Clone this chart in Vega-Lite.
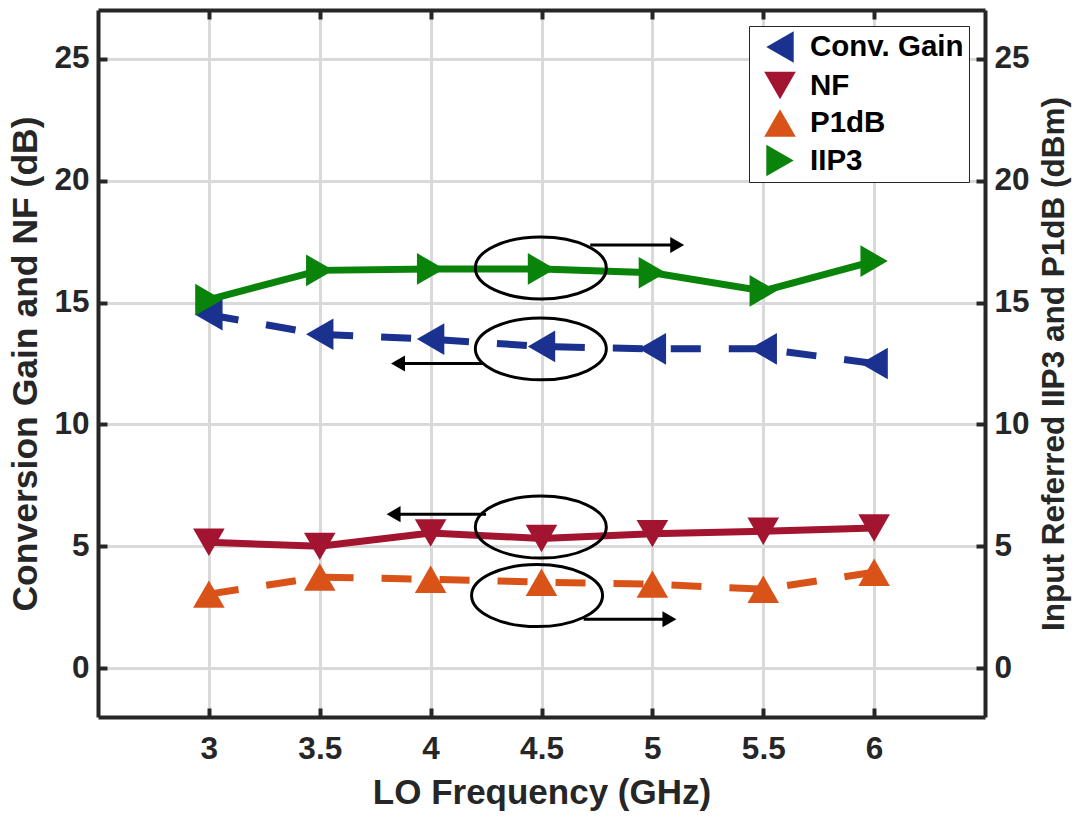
{
  "$schema": "https://vega.github.io/schema/vega-lite/v6.json",
  "width": 887,
  "height": 707,
  "autosize": {"type": "none"},
  "padding": {"left": 98, "top": 10, "right": 98, "bottom": 101},
  "background": "white",
  "config": {"view": {"stroke": null}, "font": "Liberation Sans"},
  "datasets": {
    "series": [
      {"s": "Conv. Gain", "f": 3, "v": 14.5},
      {"s": "Conv. Gain", "f": 3.5, "v": 13.7},
      {"s": "Conv. Gain", "f": 4, "v": 13.5},
      {"s": "Conv. Gain", "f": 4.5, "v": 13.2},
      {"s": "Conv. Gain", "f": 5, "v": 13.1},
      {"s": "Conv. Gain", "f": 5.5, "v": 13.1},
      {"s": "Conv. Gain", "f": 6, "v": 12.5},
      {"s": "NF", "f": 3, "v": 5.17},
      {"s": "NF", "f": 3.5, "v": 5.0},
      {"s": "NF", "f": 4, "v": 5.55},
      {"s": "NF", "f": 4.5, "v": 5.32},
      {"s": "NF", "f": 5, "v": 5.52},
      {"s": "NF", "f": 5.5, "v": 5.62},
      {"s": "NF", "f": 6, "v": 5.75},
      {"s": "P1dB", "f": 3, "v": 3.04},
      {"s": "P1dB", "f": 3.5, "v": 3.74},
      {"s": "P1dB", "f": 4, "v": 3.65},
      {"s": "P1dB", "f": 4.5, "v": 3.53},
      {"s": "P1dB", "f": 5, "v": 3.45},
      {"s": "P1dB", "f": 5.5, "v": 3.24},
      {"s": "P1dB", "f": 6, "v": 3.94},
      {"s": "IIP3", "f": 3, "v": 15.12},
      {"s": "IIP3", "f": 3.5, "v": 16.32},
      {"s": "IIP3", "f": 4, "v": 16.38},
      {"s": "IIP3", "f": 4.5, "v": 16.38},
      {"s": "IIP3", "f": 5, "v": 16.22},
      {"s": "IIP3", "f": 5.5, "v": 15.48},
      {"s": "IIP3", "f": 6, "v": 16.7}
    ],
    "ellipses": [
      {"f": 4.497, "v": 16.42},
      {"f": 4.497, "v": 13.1},
      {"f": 4.497, "v": 5.79},
      {"f": 4.48, "v": 2.98}
    ],
    "arrows": [
      {"from": 4.72, "to": 5.112, "v": 17.36, "dir": "right"},
      {"from": 4.24, "to": 3.853, "v": 12.5, "dir": "left"},
      {"from": 4.25, "to": 3.833, "v": 6.32, "dir": "left"},
      {"from": 4.69, "to": 5.077, "v": 2.01, "dir": "right"}
    ]
  },
  "layer": [
    {
      "data": {"name": "series"},
      "transform": [{"filter": "datum.s === 'Conv. Gain'"}],
      "mark": {"type": "line", "strokeWidth": 7, "color": "#1a318f", "strokeDash": [30, 28]},
      "encoding": {
        "x": {
          "field": "f", "type": "quantitative",
          "scale": {"domain": [2.5, 6.5], "nice": false, "zero": false},
          "axis": {
            "orient": "bottom", "values": [3, 3.5, 4, 4.5, 5, 5.5, 6],
            "title": null, "labels": false, "ticks": false, "domain": false, "zindex": 0,
            "grid": true, "gridColor": "#d9d9d9", "gridWidth": 3, "minExtent": 0, "maxExtent": 0
          }
        },
        "y": {
          "field": "v", "type": "quantitative",
          "scale": {"domain": [-2, 27], "nice": false, "zero": false},
          "axis": {
            "orient": "left", "values": [0, 5, 10, 15, 20, 25],
            "title": null, "labels": false, "ticks": false, "domain": false, "zindex": 0,
            "grid": true, "gridColor": "#d9d9d9", "gridWidth": 3, "minExtent": 0, "maxExtent": 0
          }
        }
      }
    },
    {
      "data": {"name": "series"},
      "transform": [{"filter": "datum.s === 'NF'"}],
      "mark": {"type": "line", "strokeWidth": 7, "color": "#a2142f"},
      "encoding": {
        "x": {"field": "f", "type": "quantitative", "scale": {"domain": [2.5, 6.5], "nice": false, "zero": false}, "axis": null},
        "y": {"field": "v", "type": "quantitative", "scale": {"domain": [-2, 27], "nice": false, "zero": false}, "axis": null}
      }
    },
    {
      "data": {"name": "series"},
      "transform": [{"filter": "datum.s === 'P1dB'"}],
      "mark": {"type": "line", "strokeWidth": 7, "color": "#d95319", "strokeDash": [30, 28]},
      "encoding": {
        "x": {"field": "f", "type": "quantitative", "scale": {"domain": [2.5, 6.5], "nice": false, "zero": false}, "axis": null},
        "y": {"field": "v", "type": "quantitative", "scale": {"domain": [-2, 27], "nice": false, "zero": false}, "axis": null}
      }
    },
    {
      "data": {"name": "series"},
      "transform": [{"filter": "datum.s === 'IIP3'"}],
      "mark": {"type": "line", "strokeWidth": 7, "color": "#0a830a"},
      "encoding": {
        "x": {"field": "f", "type": "quantitative", "scale": {"domain": [2.5, 6.5], "nice": false, "zero": false}, "axis": null},
        "y": {"field": "v", "type": "quantitative", "scale": {"domain": [-2, 27], "nice": false, "zero": false}, "axis": null}
      }
    },
    {
      "data": {"name": "series"},
      "mark": {"type": "point", "filled": true, "size": 1000, "opacity": 1, "strokeWidth": 0},
      "encoding": {
        "x": {
          "field": "f", "type": "quantitative",
          "scale": {"domain": [2.5, 6.5], "nice": false, "zero": false},
          "axis": {
            "orient": "top", "values": [3, 3.5, 4, 4.5, 5, 5.5, 6], "labels": false, "title": null, "grid": false, "zindex": 1,
            "domainColor": "#262626", "domainWidth": 4,
            "ticks": true, "tickColor": "#262626", "tickWidth": 4, "tickSize": -9
          }
        },
        "y": {
          "field": "v", "type": "quantitative",
          "scale": {"domain": [-2, 27], "nice": false, "zero": false},
          "axis": {
            "orient": "right", "values": [0, 5, 10, 15, 20, 25], "zindex": 1,
            "title": "Input Referred IIP3 and P1dB (dBm)", "titleAngle": 270, "titleBaseline": "top",
            "grid": false,
            "domainColor": "#262626", "domainWidth": 4,
            "ticks": true, "tickColor": "#262626", "tickWidth": 4, "tickSize": -9,
            "labelFont": "Liberation Sans", "labelFontSize": 31.5, "labelFontWeight": "bold", "labelColor": "#262626",
            "labelPadding": 18, "labelFlush": false, "labelOverlap": false,
            "titleFont": "Liberation Sans", "titleFontSize": 31.5, "titleFontWeight": "bold", "titleColor": "#262626",
            "titlePadding": 9
          }
        },
        "color": {
          "field": "s", "type": "nominal",
          "scale": {"domain": ["Conv. Gain", "NF", "P1dB", "IIP3"], "range": ["#1a318f", "#a2142f", "#d95319", "#0a830a"]},
          "legend": {
            "title": null, "orient": "top-right", "offset": 16,
            "fillColor": "white", "strokeColor": "#262626", "padding": 5,
            "rowPadding": 6.5, "labelOffset": 14, "symbolSize": 1000, "symbolOffset": 10,
            "symbolStrokeWidth": 0, "symbolOpacity": 1,
            "labelFont": "Liberation Sans", "labelFontSize": 29.5, "labelFontWeight": "bold", "labelColor": "black"
          }
        },
        "shape": {
          "field": "s", "type": "nominal",
          "scale": {"domain": ["Conv. Gain", "NF", "P1dB", "IIP3"], "range": ["triangle-left", "triangle-down", "triangle-up", "triangle-right"]}
        }
      }
    },
    {
      "data": {"name": "ellipses"},
      "mark": {"type": "point", "shape": "M1,0C1,0.261,0.552,0.473,0,0.473C-0.552,0.473,-1,0.261,-1,0C-1,-0.261,-0.552,-0.473,0,-0.473C0.552,-0.473,1,-0.261,1,0Z", "size": 17161, "filled": false, "stroke": "black", "strokeWidth": 3, "opacity": 1},
      "encoding": {
        "x": {
          "field": "f", "type": "quantitative",
          "scale": {"domain": [2.5, 6.5], "nice": false, "zero": false},
          "axis": {
            "orient": "bottom", "values": [3, 3.5, 4, 4.5, 5, 5.5, 6], "format": "~g",
            "title": "LO Frequency (GHz)", "zindex": 1, "grid": false,
            "domainColor": "#262626", "domainWidth": 4,
            "ticks": true, "tickColor": "#262626", "tickWidth": 4, "tickSize": -9,
            "labelFont": "Liberation Sans", "labelFontSize": 31.5, "labelFontWeight": "bold", "labelColor": "#262626",
            "labelPadding": 25, "labelFlush": false, "labelOverlap": false,
            "titleFont": "Liberation Sans", "titleFontSize": 35, "titleFontWeight": "bold", "titleColor": "#262626",
            "titlePadding": 11
          }
        },
        "y": {
          "field": "v", "type": "quantitative",
          "scale": {"domain": [-2, 27], "nice": false, "zero": false},
          "axis": {
            "orient": "left", "values": [0, 5, 10, 15, 20, 25],
            "title": "Conversion Gain and NF (dB)", "zindex": 1, "grid": false,
            "domainColor": "#262626", "domainWidth": 4,
            "ticks": true, "tickColor": "#262626", "tickWidth": 4, "tickSize": -9,
            "labelFont": "Liberation Sans", "labelFontSize": 31.5, "labelFontWeight": "bold", "labelColor": "#262626",
            "labelPadding": 18, "labelFlush": false, "labelOverlap": false,
            "titleFont": "Liberation Sans", "titleFontSize": 35.5, "titleFontWeight": "bold", "titleColor": "#262626",
            "titlePadding": 10
          }
        }
      }
    },
    {
      "data": {"name": "arrows"},
      "mark": {"type": "rule", "color": "black", "strokeWidth": 3},
      "encoding": {
        "x": {"field": "from", "type": "quantitative", "scale": {"domain": [2.5, 6.5], "nice": false, "zero": false}, "axis": null},
        "x2": {"field": "to"},
        "y": {"field": "v", "type": "quantitative", "scale": {"domain": [-2, 27], "nice": false, "zero": false}, "axis": null}
      }
    },
    {
      "data": {"name": "arrows"},
      "transform": [{"filter": "datum.dir === 'right'"}],
      "mark": {"type": "point", "shape": "triangle-right", "filled": true, "color": "black", "size": 260, "opacity": 1, "strokeWidth": 0},
      "encoding": {
        "x": {"field": "to", "type": "quantitative", "scale": {"domain": [2.5, 6.5], "nice": false, "zero": false}, "axis": null},
        "y": {"field": "v", "type": "quantitative", "scale": {"domain": [-2, 27], "nice": false, "zero": false}, "axis": null}
      }
    },
    {
      "data": {"name": "arrows"},
      "transform": [{"filter": "datum.dir === 'left'"}],
      "mark": {"type": "point", "shape": "triangle-left", "filled": true, "color": "black", "size": 260, "opacity": 1, "strokeWidth": 0},
      "encoding": {
        "x": {"field": "to", "type": "quantitative", "scale": {"domain": [2.5, 6.5], "nice": false, "zero": false}, "axis": null},
        "y": {"field": "v", "type": "quantitative", "scale": {"domain": [-2, 27], "nice": false, "zero": false}, "axis": null}
      }
    }
  ],
  "resolve": {"axis": {"x": "independent", "y": "independent"}}
}
